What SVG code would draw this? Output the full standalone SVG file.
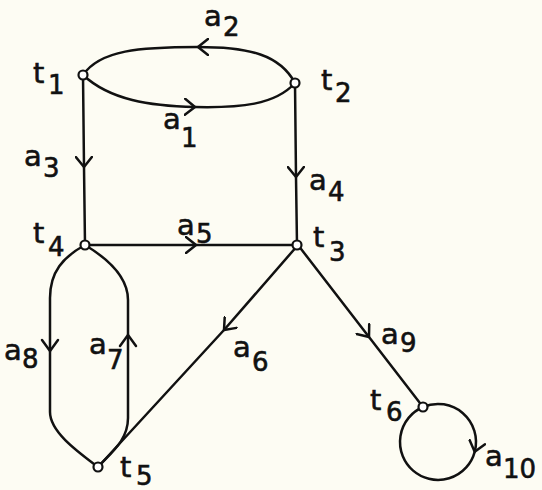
<svg xmlns="http://www.w3.org/2000/svg" width="542" height="490" viewBox="0 0 542 490">
<style>
.e{fill:none;stroke:#111;stroke-width:2.5;stroke-linejoin:round;stroke-linecap:round;marker-mid:url(#arr)}
.l{fill:none;stroke:#111;stroke-width:2.5;stroke-linejoin:round;stroke-linecap:round}
.n{fill:#fff;stroke:#111;stroke-width:2.2}
text{font-family:"DejaVu Sans","Liberation Sans",sans-serif;fill:#111;stroke:#111;stroke-width:0.6}
.m{font-size:29px}
.s{font-size:26px}
</style>
<defs>
<marker id="arr" markerUnits="userSpaceOnUse" markerWidth="14" markerHeight="18" viewBox="0 0 14 18" refX="11" refY="9" orient="auto">
<path d="M1,1 L11,9 L1,17" fill="none" stroke="#111" stroke-width="2.5" stroke-linecap="round" stroke-linejoin="round"/>
</marker>
</defs>
<rect width="542" height="490" fill="#fdfcf3"/>
<g id="connectors">
<path id="a1" class="e" d="M83,75 C110,100 150,106 195,107 C240,108 275,105 295,83"/>
<path id="a2" class="e" d="M295,83 C280,55 250,47 198,47 C140,47 100,50 83,75"/>
<path id="a3" class="e" d="M83,75 L84,167 L85,245"/>
<path id="a4" class="e" d="M295,83 L296,177 L297,245"/>
<path id="a5" class="e" d="M85,245 L196,245 L297,245"/>
<path id="a6" class="e" d="M298,245 L224,330 L98,467"/>
<g id="a7"><path class="l" d="M98,467 C112,452 128,440 128,418 L128,300 C128,278 110,260 85,245"/><path class="l" d="M120,346 L128,335 L136,346"/></g>
<g id="a8"><path class="l" d="M85,245 C63,257 50,272 50,298 L50,412 C50,432 78,452 98,467"/><path class="l" d="M42,340 L50,351 L58,340"/></g>
<path id="a9" class="e" d="M298,245 L369,337 L423,407"/>
<path id="a10" class="e" d="M423,407 A38,38 0 0 1 474.7,451.8 A38,38 0 1 1 423,407"/>
</g>
<g id="t1"><circle class="n" cx="83" cy="75" r="4.5"/><text><tspan class="m" x="33" y="83">t</tspan><tspan class="s" x="48" y="94">1</tspan></text></g>
<g id="t2"><circle class="n" cx="295" cy="83" r="4.5"/><text><tspan class="m" x="321" y="90">t</tspan><tspan class="s" x="335" y="102">2</tspan></text></g>
<g id="t4"><circle class="n" cx="85" cy="245" r="4.5"/><text><tspan class="m" x="33" y="243">t</tspan><tspan class="s" x="48" y="256">4</tspan></text></g>
<g id="t3"><circle class="n" cx="297" cy="245" r="4.5"/><text><tspan class="m" x="313" y="247">t</tspan><tspan class="s" x="329" y="261">3</tspan></text></g>
<g id="t5"><circle class="n" cx="98" cy="467" r="4.5"/><text><tspan class="m" x="120" y="477">t</tspan><tspan class="s" x="136" y="485">5</tspan></text></g>
<g id="t6"><circle class="n" cx="423" cy="407" r="4.5"/><text><tspan class="m" x="370" y="410">t</tspan><tspan class="s" x="386" y="421">6</tspan></text></g>
<g id="labels">
<text><tspan class="m" x="204" y="26">a</tspan><tspan class="s" x="223" y="36">2</tspan></text>
<text><tspan class="m" x="163" y="129">a</tspan><tspan class="s" x="181" y="147">1</tspan></text>
<text><tspan class="m" x="24" y="166">a</tspan><tspan class="s" x="43" y="177">3</tspan></text>
<text><tspan class="m" x="309" y="190">a</tspan><tspan class="s" x="328" y="201">4</tspan></text>
<text><tspan class="m" x="177" y="235">a</tspan><tspan class="s" x="196" y="243">5</tspan></text>
<text><tspan class="m" x="4" y="360">a</tspan><tspan class="s" x="22" y="368">8</tspan></text>
<text><tspan class="m" x="89" y="354">a</tspan><tspan class="s" x="107" y="369">7</tspan></text>
<text><tspan class="m" x="233" y="357">a</tspan><tspan class="s" x="252" y="371">6</tspan></text>
<text><tspan class="m" x="381" y="344">a</tspan><tspan class="s" x="400" y="352">9</tspan></text>
<text><tspan class="m" x="485" y="466">a</tspan><tspan class="s" x="503" y="478">10</tspan></text>
</g>
</svg>
